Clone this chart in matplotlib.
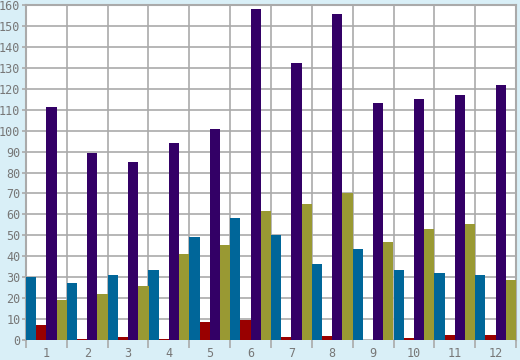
import matplotlib
matplotlib.use("Agg")
import matplotlib.pyplot as plt
import numpy as np

categories = [str(i) for i in range(1, 13)]
blue = [30, 27.2, 31, 33.4, 49.2, 58.2, 50, 36.3, 43.5, 33.4, 32, 31]
red = [7.2, 0.5, 1.4, 0.5, 8.6, 9.6, 1.4, 1.9, 0.2, 1.0, 2.4, 2.4]
purple = [111.2, 89.3, 85, 94, 100.8, 158, 132.3, 155.7, 113.2, 115, 117, 122]
olive = [19.1, 22, 25.8, 41, 45.4, 61.6, 65, 70.2, 46.8, 53, 55.4, 28.6]

series = [blue, red, purple, olive]
colors = ['#006699', '#990000', '#330066', '#999933']

bg = '#d9eff7'
grid_c = '#aaaaaa'
text_c = '#777777'

fig = plt.figure(figsize=(5.2, 3.6), dpi=100, facecolor=bg)
ax = fig.add_axes([26/520, 20/360, 490/520, 335/360])
ax.set_facecolor('white')

x = np.arange(len(categories))
w = 0.25
for k, (vals, c) in enumerate(zip(series, colors)):
    ax.bar(x + (k - 1.5) * w, vals, width=w, color=c, zorder=3, linewidth=0)

ax.set_xlim(-0.5, len(categories) - 0.5)
ax.set_ylim(0, 160)
ax.set_yticks(np.arange(0, 161, 10))

# gridlines at category boundaries, labels in the middle
ax.set_xticks(np.arange(-0.5, len(categories), 1.0))
ax.set_xticklabels([])
ax.set_xticks(x, minor=True)
ax.set_xticklabels(categories, minor=True)
ax.tick_params(axis='x', which='major', length=6, width=1.2, color=grid_c, direction='out')
ax.tick_params(axis='x', which='minor', length=0, pad=5)
ax.tick_params(axis='y', length=3, width=1.2, color=grid_c, pad=1)

for lab in ax.get_xticklabels(minor=True) + ax.get_yticklabels():
    lab.set_fontfamily('DejaVu Sans Mono')
    lab.set_fontsize(8.5)
    lab.set_color(text_c)

ax.grid(True, which='major', color=grid_c, linewidth=1.2, zorder=0)
for side in ['left', 'right', 'top']:
    ax.spines[side].set_color(grid_c)
    ax.spines[side].set_linewidth(1.5)
ax.spines['bottom'].set_visible(False)

fig.savefig('out.png', dpi=100, facecolor=bg)
